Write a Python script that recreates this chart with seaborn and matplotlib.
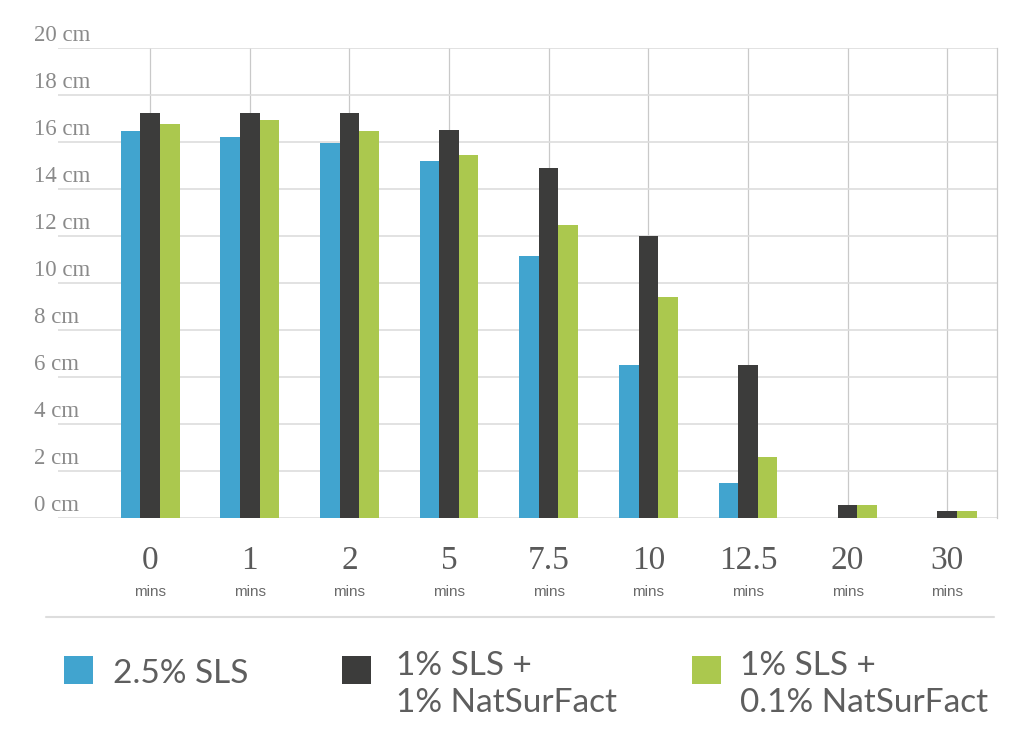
import pandas as pd
import matplotlib.pyplot as plt
import seaborn as sns
from matplotlib.patches import Rectangle
from matplotlib.lines import Line2D

times = ["0", "1", "2", "5", "7.5", "10", "12.5", "20", "30"]
series = ["2.5% SLS", "1% SLS +\n1% NatSurFact", "1% SLS +\n0.1% NatSurFact"]
sls_25 = [16.45, 16.2, 15.95, 15.2, 11.15, 6.5, 1.5, 0.0, 0.0]
sls_1_nsf_1 = [17.25, 17.25, 17.25, 16.5, 14.9, 12.0, 6.5, 0.55, 0.3]
sls_1_nsf_01 = [16.75, 16.95, 16.45, 15.45, 12.45, 9.4, 2.6, 0.55, 0.3]
colors = ["#41a4cf", "#3c3c3b", "#abc84e"]
y_ticks = [0, 2, 4, 6, 8, 10, 12, 14, 16, 18, 20]

df = pd.DataFrame({"time": times * 3,
                   "group": [s for s in series for _ in times],
                   "height": sls_25 + sls_1_nsf_1 + sls_1_nsf_01})

sns.set_style("white")
plt.rcParams["font.family"] = ["Liberation Serif", "DejaVu Sans"]

fig = plt.figure(figsize=(10.24, 7.31), dpi=100)
ax = fig.add_axes([58 / 1024, 213 / 731, 939 / 1024, 470 / 731])

sns.barplot(data=df, x="time", y="height", hue="group", order=times,
            hue_order=series, palette=colors, width=0.59, linewidth=0,
            saturation=1, legend=False, ax=ax)

ax.set_xlim(-0.925, 8.5)
ax.set_ylim(0, 20)
ax.set_yticks(y_ticks)
ax.set_axisbelow(True)
ax.yaxis.grid(True, color="#dddddd", linewidth=1.2)
ax.xaxis.grid(True, color="#c9c9c9", linewidth=0.9)
for s in ["top", "left", "bottom"]:
    ax.spines[s].set_visible(False)
ax.spines["right"].set_color("#c9c9c9")
ax.spines["right"].set_linewidth(0.9)
ax.tick_params(length=0, labelbottom=False, labelleft=False)
ax.set_xlabel("")
ax.set_ylabel("")

# y labels sit above their gridlines
for t in y_ticks:
    ax.annotate(f"{t} cm", xy=(-0.0255, t), xycoords=ax.get_yaxis_transform(),
                xytext=(0, 5), textcoords="offset points", ha="left",
                va="baseline", fontsize=16.5, color="#8a8a8a")

# x labels: number + "mins"
for i, t in enumerate(times):
    ax.annotate(t, xy=(i, 0), xycoords=ax.get_xaxis_transform(),
                xytext=(0, -31), textcoords="offset points", ha="center",
                va="center", fontsize=24, color="#5a5a5a")
    ax.annotate("mins", xy=(i, 0), xycoords=ax.get_xaxis_transform(),
                xytext=(0, -53.5), textcoords="offset points", ha="center",
                va="center", fontsize=11, color="#6a6a6a",
                family="Liberation Sans")

fig.add_artist(Line2D([46 / 1024, 994 / 1024], [1 - 617 / 731, 1 - 617 / 731],
                      color="#dddddd", linewidth=1.5))

# legend
box_x = [64, 342, 692]
txt_x = [113, 396, 740]
for name, c, bx, tx in zip(series, colors, box_x, txt_x):
    fig.add_artist(Rectangle((bx / 1024, 1 - 684 / 731), 29 / 1024, 28 / 731,
                             facecolor=c, edgecolor="none",
                             transform=fig.transFigure))
    lines = name.split("\n")
    base = 683 if len(lines) == 1 else 675
    for k, line in enumerate(lines):
        fig.text(tx / 1024, 1 - (base + 37 * k) / 731, line, ha="left",
                 va="baseline", fontsize=24, color="#5e5e5e", family="Lato")

fig.savefig("out.png", dpi=100, facecolor="white")
